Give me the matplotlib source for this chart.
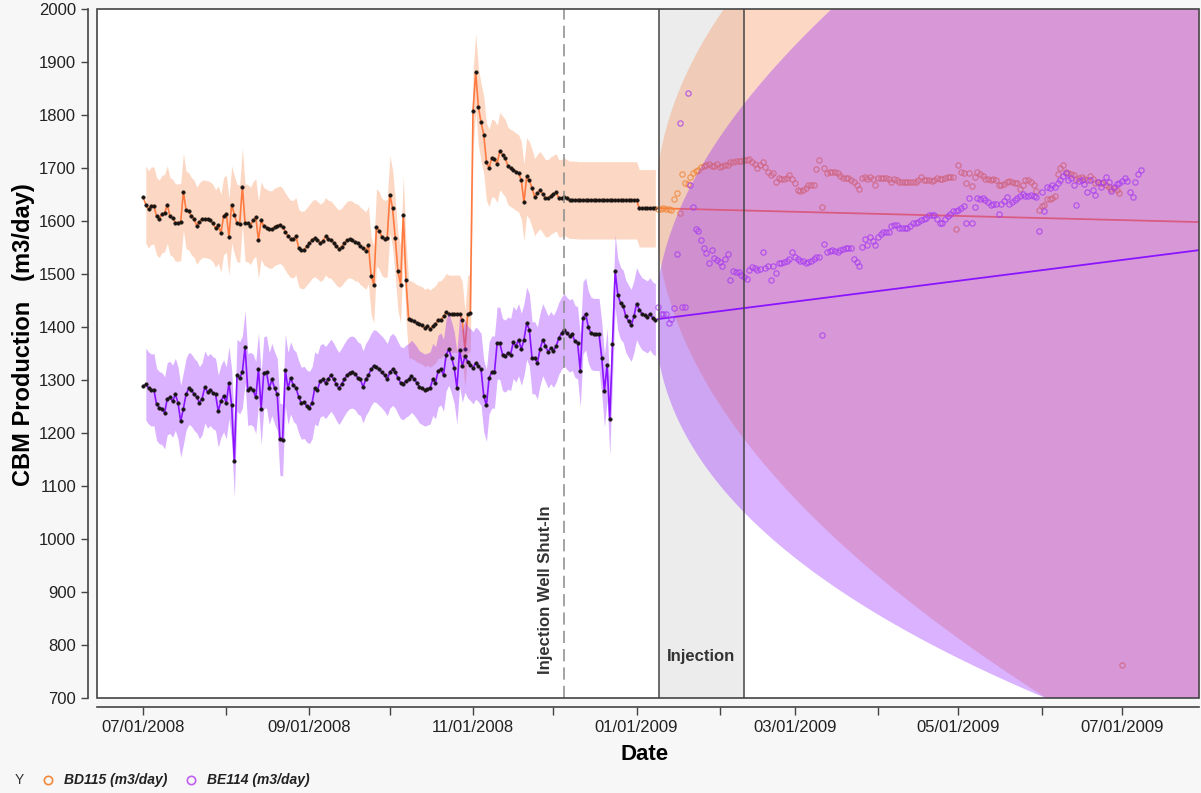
import numpy as np
import pandas as pd
import matplotlib
matplotlib.use("Agg")
import matplotlib.pyplot as plt
import matplotlib.dates as mdates
from matplotlib.lines import Line2D
from matplotlib.patches import Rectangle

plt.rcParams["font.family"] = ["Liberation Sans", "DejaVu Sans"]

# daily production (m3/day) used for the fit, from 07/01/2008
fit_start = "2008-07-01"
bd115_fit = [
    1645, 1631, 1622, 1629, 1629, 1609, 1604, 1613, 1615, 1631,
    1609, 1606, 1597, 1597, 1598, 1655, 1621, 1618, 1609, 1604,
    1591, 1599, 1604, 1604, 1603, 1601, 1596, 1586, 1593, 1577,
    1609, 1614, 1570, 1631, 1612, 1596, 1595, 1665, 1597, 1596,
    1591, 1601, 1607, 1564, 1601, 1590, 1587, 1584, 1584, 1589,
    1591, 1593, 1589, 1580, 1572, 1566, 1566, 1571, 1549, 1545,
    1546, 1552, 1558, 1565, 1568, 1564, 1559, 1562, 1571, 1566,
    1565, 1559, 1552, 1548, 1551, 1558, 1564, 1566, 1564, 1560,
    1559, 1553, 1549, 1544, 1555, 1497, 1480, 1588, 1582, 1570,
    1566, 1568, 1650, 1624, 1568, 1505, 1480, 1612, 1489, 1415,
    1414, 1411, 1407, 1405, 1403, 1398, 1401, 1397, 1401, 1405,
    1414, 1414, 1420, 1428, 1425, 1425, 1425, 1425, 1425, 1413,
    1358, 1424, 1427, 1808, 1881, 1816, 1786, 1763, 1712, 1700,
    1719, 1717, 1708, 1732, 1725, 1719, 1704, 1700, 1697, 1693,
    1690, 1677, 1635, 1684, 1677, 1662, 1645, 1653, 1658, 1651,
    1643, 1643, 1648, 1651, 1654, 1643, 1643, 1646, 1643, 1640,
    1640, 1640,
] + [1639] * 23 + [1624] * 7
be114_fit = [
    1288, 1292, 1285, 1281, 1282, 1254, 1248, 1246, 1238, 1265,
    1267, 1260, 1273, 1257, 1222, 1246, 1273, 1284, 1281, 1273,
    1268, 1257, 1265, 1287, 1277, 1282, 1276, 1273, 1241, 1260,
    1270, 1257, 1295, 1252, 1147, 1309, 1304, 1315, 1363, 1282,
    1284, 1281, 1267, 1321, 1246, 1314, 1315, 1284, 1301, 1285,
    1273, 1188, 1187, 1319, 1284, 1304, 1290, 1285, 1268, 1256,
    1258, 1251, 1248, 1257, 1285, 1281, 1298, 1301, 1295, 1302,
    1309, 1302, 1292, 1284, 1292, 1301, 1309, 1314, 1315, 1312,
    1304, 1301, 1287, 1301, 1309, 1320, 1327, 1325, 1320, 1315,
    1309, 1301, 1315, 1320, 1315, 1304, 1295, 1293, 1298, 1301,
    1307, 1302, 1295, 1287, 1284, 1281, 1283, 1285, 1301, 1295,
    1317, 1321, 1309, 1348, 1358, 1342, 1323, 1285, 1356, 1326,
    1345, 1334, 1329, 1323, 1332, 1327, 1320, 1270, 1252, 1304,
    1315, 1315, 1370, 1369, 1348, 1345, 1351, 1348, 1371, 1364,
    1376, 1358, 1376, 1407, 1395, 1342, 1342, 1332, 1358, 1376,
    1365, 1353, 1361, 1354, 1364, 1379, 1388, 1395, 1388, 1383,
    1386, 1373, 1370, 1317, 1417, 1425, 1400, 1388, 1386, 1386,
    1386, 1342, 1279, 1329, 1226, 1367, 1505, 1461, 1445, 1439,
    1420, 1411, 1403, 1420, 1444, 1433, 1425, 1422, 1419, 1425,
    1417, 1414,
]

# observations after the forecast origin
obs_start = "2009-01-09"
bd115_obs = [
    1622, 1623, 1624, 1623, 1622, 1620, 1641, 1653, 1616, 1689,
    1671, 1670, 1683, 1690, 1695, 1697, 1702, 1704, 1706, 1708,
    1703, 1704, 1708, 1702, 1704, 1706, 1706, 1711, 1712, 1713,
    1714, 1714, 1716, 1716, 1717, 1712, 1708, 1700, 1706, 1712,
    1702, 1692, 1687, 1690, 1673, 1681, 1679, 1680, 1681, 1687,
    1679, 1672, 1659, 1656, 1659, 1662, 1667, 1668, 1667, 1698,
    1716, 1626, 1700, 1690, 1693, 1693, 1693, 1690, 1684, 1681,
    1681, 1681, 1677, 1673, 1668, 1660, 1681, 1683, 1679, 1683,
    1679, 1668, 1681, 1681, 1681, 1681, 1679, 1673, 1679, 1677,
    1673, 1673, 1673, 1673, 1673, 1673, 1673, 1677, 1683, 1677,
    1677, 1678, 1675, 1677, 1681, 1679, 1679, 1681, 1683, 1683,
    1683, 1584, 1706, 1693, 1690, 1672, 1690, 1666, 1683, 1692,
    1689, 1684, 1679, 1679, 1677, 1680, 1677, 1668, 1668, 1670,
    1673, 1675, 1673, 1672, 1672, 1660, 1668, 1677, 1677, 1673,
    1667, 1656, 1621, 1629, 1630, 1641, 1641, 1643, 1648, 1689,
    1700, 1706, 1693, 1690, 1688, 1687, 1679, 1681, 1683, 1680,
    1678, 1684, 1679, 1672, 1673, 1672, 1672, 1668, 1664, 1660,
    1662, 1658, 1653, 762,
]
be114_obs = [
    1438, 1424, 1425, 1425, 1408, 1415, 1436, 1538, 1785, 1438,
    1438, 1842, 1667, 1626, 1584, 1581, 1564, 1549, 1540, 1521,
    1545, 1530, 1527, 1522, 1516, 1528, 1538, 1488, 1505, 1503,
    1503, 1499, 1495, 1491, 1508, 1513, 1511, 1507, 1509, 1541,
    1511, 1516, 1489, 1516, 1501, 1520, 1521, 1522, 1524, 1528,
    1541, 1532, 1528, 1524, 1524, 1520, 1522, 1524, 1528, 1532,
    1532, 1384, 1557, 1541, 1543, 1545, 1543, 1541, 1545, 1547,
    1549, 1549, 1549, 1528, 1522, 1516, 1551, 1566, 1555, 1570,
    1562, 1554, 1570, 1576, 1579, 1579, 1579, 1590, 1592, 1593,
    1587, 1587, 1587, 1587, 1591, 1596, 1597, 1599, 1601, 1603,
    1606, 1612, 1612, 1612, 1604, 1597, 1597, 1604, 1610, 1614,
    1618, 1618, 1620, 1624, 1628, 1597, 1643, 1597, 1626, 1643,
    1641, 1643, 1639, 1635, 1631, 1633, 1633, 1614, 1633, 1637,
    1645, 1633, 1635, 1639, 1644, 1648, 1651, 1648, 1648, 1650,
    1648, 1646, 1582, 1654, 1618, 1664, 1662, 1668, 1665, 1672,
    1678, 1685, 1690, 1678, 1681, 1668, 1631, 1676, 1678, 1670,
    1654, 1678, 1658, 1649, 1673, 1664, 1673, 1683, 1673, 1656,
    1664, 1670, 1672, 1675, 1681, 1676, 1654, 1645, 1673, 1689,
    1697,
]

# forecast level at origin and at the right edge, with interval widths
fc_dates = ["2009-01-09 00:00", "2009-07-29 17:00"]
bd115_fc = [1624, 1598]
be114_fc = [1415, 1545]
bd115_sigma = 75
be114_sigma = 67
bd115_band = 73
be114_band = 68

shut_in = "2008-12-05 00:00"
injection = ["2009-01-09 10:00", "2009-02-10 00:00"]

ORANGE_FILL = "#f99056"
PURPLE_FILL = "#9523ff"
ORANGE_LINE = "#ff7a40"
PURPLE_LINE = "#8a14ff"
ORANGE_PT = "#f0883c"
PURPLE_PT = "#a83cf0"
FRAME = "#444444"

fig = plt.figure(figsize=(12.01, 7.93), dpi=100, facecolor="#f7f7f7")
ax = fig.add_axes([97 / 1201, 95 / 793, 1102 / 1201, 689 / 793])
ax.set_facecolor("white")


def draw_series(values, band, fc, sigma, fill, line, z):
    d = pd.date_range(fit_start, periods=len(values), freq="D")
    v = np.array(values, dtype=float)
    ax.fill_between(d[1:], v[1:] - band, v[1:] + band, color=fill,
                    alpha=0.35, lw=0, zorder=z)
    ax.plot(d, v, color=line, lw=1.2, zorder=z + 0.5)
    ax.plot(d, v, ls="none", marker="o", ms=2.6, mfc="#151515",
            mec="#2a1a10", mew=0.3, zorder=z + 0.6)

    # forecast cone
    fd = pd.date_range(pd.Timestamp(fc_dates[0]), pd.Timestamp(fc_dates[1]), freq="3h")
    h = np.asarray((fd - fd[0]) / pd.Timedelta("1D"), dtype=float)
    center = np.interp(h, [0, h[-1]], fc)
    half = sigma * np.sqrt(h + 1)
    ax.fill_between(fd, center - half, center + half, color=fill,
                    alpha=0.35, lw=0, zorder=z)
    ax.plot([pd.Timestamp(t) for t in fc_dates], fc, color=line, lw=1.3,
            zorder=z + 0.5)


draw_series(bd115_fit, bd115_band, bd115_fc, bd115_sigma,
            ORANGE_FILL, ORANGE_LINE, 1)
od = pd.date_range(obs_start, periods=len(bd115_obs), freq="D")
ax.plot(od, bd115_obs, ls="none", marker="o", ms=3.8, mfc="none",
        mec=ORANGE_PT, mew=0.9, alpha=0.8, zorder=1.7)

draw_series(be114_fit, be114_band, be114_fc, be114_sigma,
            PURPLE_FILL, PURPLE_LINE, 3)
pdts = pd.date_range(obs_start, periods=len(be114_obs), freq="D")
ax.plot(pdts, be114_obs, ls="none", marker="o", ms=3.8, mfc="none",
        mec=PURPLE_PT, mew=0.9, alpha=0.75, zorder=3.7)

# injection period and shut-in marker
inj = [pd.Timestamp(t) for t in injection]
ax.axvspan(inj[0], inj[1], color="#ececec", zorder=0.5, lw=0)
for t in inj:
    ax.axvline(t, color="#444444", lw=1.1, zorder=5)
ax.axvline(pd.Timestamp(shut_in), color="#8a8a8a", lw=1.1,
           dashes=(8, 4), zorder=5)
ax.text(pd.Timestamp("2008-11-28"), 745, "Injection Well Shut-In",
        rotation=90, ha="center", va="bottom", fontsize=12,
        fontweight="bold", color="#333333", zorder=7)
ax.text(pd.Timestamp("2009-01-25"), 779, "Injection", ha="center",
        va="center", fontsize=12, fontweight="bold", color="#333333",
        zorder=7)

ax.set_xlim(pd.Timestamp("2008-06-13 19:00"), pd.Timestamp("2009-07-29 17:00"))
ax.set_ylim(700, 2000)
ax.set_yticks(range(700, 2001, 100))
ax.xaxis.set_major_locator(mdates.MonthLocator(bymonth=[1, 3, 5, 7, 9, 11]))
ax.xaxis.set_minor_locator(mdates.MonthLocator(bymonth=[2, 4, 6, 8, 10, 12]))
ax.xaxis.set_major_formatter(mdates.DateFormatter("%m/%d/%Y"))

for s in ["top", "right"]:
    ax.spines[s].set_visible(False)
for s in ["left", "bottom"]:
    ax.spines[s].set_position(("outward", 6.5))
    ax.spines[s].set_color(FRAME)
    ax.spines[s].set_linewidth(1.2)
ax.tick_params(axis="both", which="both", direction="out", length=5,
               width=1, color=FRAME, labelsize=12, labelcolor="#222222")
ax.tick_params(axis="x", which="both", length=6)
ax.add_patch(Rectangle((0, 0), 1, 1, transform=ax.transAxes, fill=False,
                       ec=FRAME, lw=1.2, zorder=6, clip_on=False))

fig.text(24 / 1201, 1 - 335 / 793, "CBM Production   (m3/day)", rotation=90,
         ha="center", va="center", fontsize=17, fontweight="bold")
fig.text(645 / 1201, 1 - 755 / 793, "Date", ha="center", va="center",
         fontsize=16, fontweight="bold")

# legend row along the bottom
ly = 1 - 780 / 793
fig.text(15 / 1201, ly, "Y", ha="left", va="center", fontsize=10, color="#333333")
fig.add_artist(Line2D([48 / 1201], [ly], transform=fig.transFigure, marker="o",
                      ms=6, mfc="none", mec=ORANGE_PT, mew=1.2))
fig.text(64 / 1201, ly, "BD115 (m3/day)", ha="left", va="center", fontsize=10,
         fontweight="bold", style="italic", color="#222222")
fig.add_artist(Line2D([191 / 1201], [ly], transform=fig.transFigure, marker="o",
                      ms=6, mfc="none", mec="#c060f0", mew=1.2))
fig.text(207 / 1201, ly, "BE114 (m3/day)", ha="left", va="center", fontsize=10,
         fontweight="bold", style="italic", color="#222222")

fig.savefig("out.png", dpi=100, facecolor=fig.get_facecolor())
